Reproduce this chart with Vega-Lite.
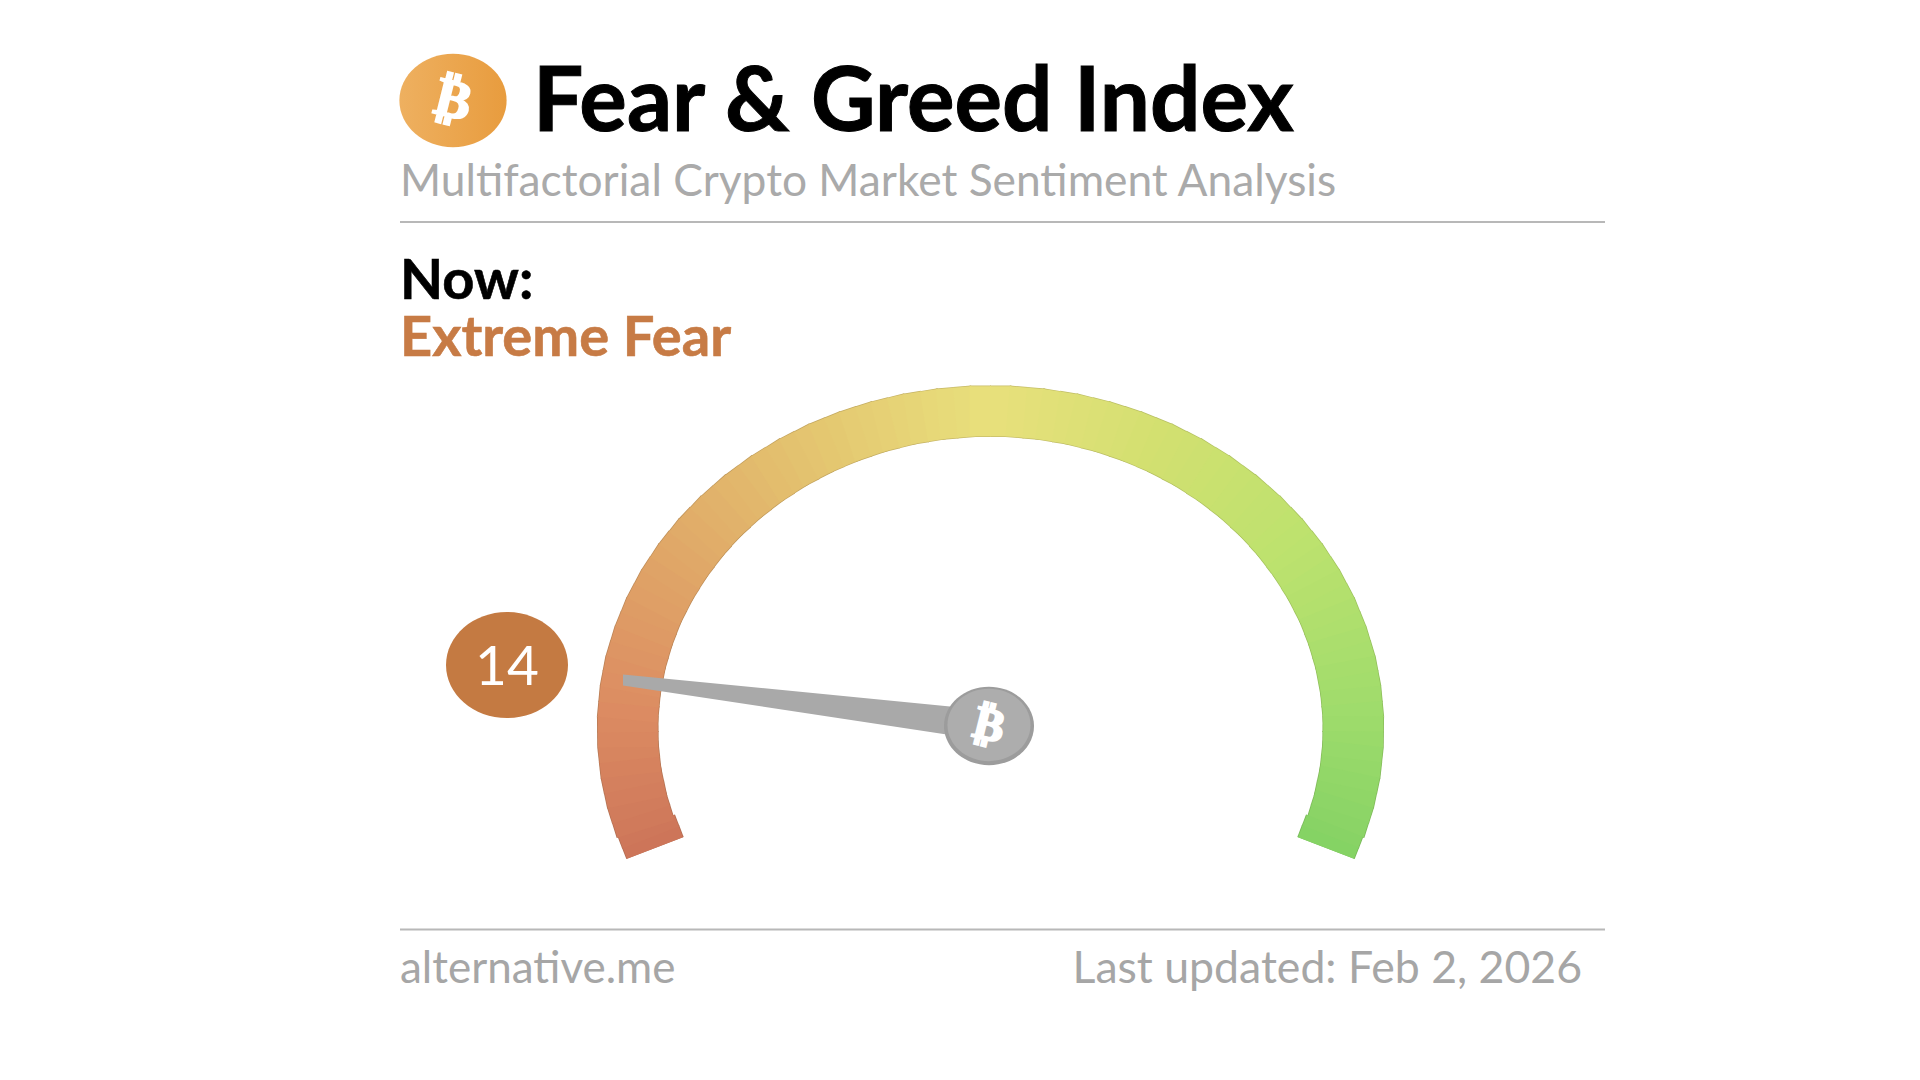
{
"$schema":"https://vega.github.io/schema/vega-lite/v6.json",
"width":1920,"height":1080,"autosize":{"type":"fit","contains":"padding"},"padding":0,
"background":"#ffffff","view":{"stroke":null},
"resolve":{"scale":{"color":"independent"}},
"datasets":{
"gauge":[
{"index":0.6,"x":655,"y":848,"x2":650.5,"y2":836.4,"w":60},
{"index":1.7,"x":650.8,"y":837.3,"x2":646.3,"y2":825.7,"w":60},
{"index":2.8,"x":645.8,"y":828.9,"x2":640.9,"y2":813.4,"w":59.5},
{"index":3.9,"x":641.2,"y":814.4,"x2":636.3,"y2":798.9,"w":59.7},
{"index":5,"x":637.2,"y":802.1,"x2":633.9,"y2":786.4,"w":60},
{"index":6.1,"x":634,"y":787.4,"x2":630.7,"y2":771.7,"w":60},
{"index":7.2,"x":631.2,"y":775,"x2":629.4,"y2":758.9,"w":60},
{"index":8.3,"x":629.6,"y":760,"x2":627.8,"y2":743.9,"w":60},
{"index":9.4,"x":628,"y":747.3,"x2":627.85,"y2":731.2,"w":60},
{"index":10.6,"x":627.85,"y":732.3,"x2":627.7,"y2":716.2,"w":60},
{"index":11.7,"x":627.5,"y":719.6,"x2":629,"y2":703.5,"w":60},
{"index":12.8,"x":628.9,"y":704.6,"x2":630.4,"y2":688.5,"w":60},
{"index":13.9,"x":629.9,"y":691.8,"x2":632.9,"y2":676,"w":60},
{"index":15,"x":632.7,"y":677.1,"x2":635.7,"y2":661.3,"w":60},
{"index":16.1,"x":634.9,"y":664.5,"x2":639.55,"y2":648.95,"w":59.7},
{"index":17.2,"x":639.25,"y":649.95,"x2":643.9,"y2":634.4,"w":59.5},
{"index":18.3,"x":642.8,"y":637.6,"x2":648.85,"y2":622.5,"w":59.2},
{"index":19.4,"x":648.45,"y":623.4,"x2":654.5,"y2":608.3,"w":58.9},
{"index":20.6,"x":653.1,"y":611.4,"x2":660.7,"y2":596.8,"w":58.7},
{"index":21.7,"x":660.3,"y":597.7,"x2":667.9,"y2":583.1,"w":58.4},
{"index":22.8,"x":666.2,"y":586,"x2":675.2,"y2":572.1,"w":58.2},
{"index":23.9,"x":674.6,"y":573,"x2":683.6,"y2":559.1,"w":57.8},
{"index":25,"x":681.6,"y":561.9,"x2":691.95,"y2":548.65,"w":57.4},
{"index":26.1,"x":691.35,"y":549.45,"x2":701.7,"y2":536.2,"w":56.8},
{"index":27.2,"x":699.4,"y":538.9,"x2":711,"y2":526.5,"w":56.4},
{"index":28.3,"x":710.3,"y":527.3,"x2":721.9,"y2":514.9,"w":55.8},
{"index":29.4,"x":719.4,"y":517.4,"x2":732.2,"y2":506,"w":55.4},
{"index":30.6,"x":731.4,"y":506.6,"x2":744.2,"y2":495.2,"w":55},
{"index":31.7,"x":741.5,"y":497.5,"x2":755.35,"y2":487.1,"w":54.6},
{"index":32.8,"x":754.55,"y":487.7,"x2":768.4,"y2":477.3,"w":54.2},
{"index":33.9,"x":765.5,"y":479.4,"x2":780.3,"y2":470.1,"w":53.8},
{"index":35,"x":779.5,"y":470.6,"x2":794.3,"y2":461.3,"w":53.3},
{"index":36.1,"x":791.2,"y":463.1,"x2":806.9,"y2":455,"w":53},
{"index":37.2,"x":806,"y":455.5,"x2":821.7,"y2":447.4,"w":52.6},
{"index":38.3,"x":818.4,"y":448.9,"x2":834.9,"y2":442.05,"w":52.2},
{"index":39.4,"x":833.9,"y":442.45,"x2":850.4,"y2":435.6,"w":51.9},
{"index":40.6,"x":846.9,"y":436.9,"x2":864,"y2":431.3,"w":51.6},
{"index":41.7,"x":863,"y":431.6,"x2":880.1,"y2":426,"w":51.2},
{"index":42.8,"x":876.5,"y":427.1,"x2":894,"y2":422.7,"w":51},
{"index":43.9,"x":893.1,"y":423,"x2":910.6,"y2":418.6,"w":50.8},
{"index":45,"x":906.9,"y":419.4,"x2":924.9,"y2":416.5,"w":50.5},
{"index":46.1,"x":923.9,"y":416.7,"x2":941.9,"y2":413.8,"w":50.3},
{"index":47.2,"x":938.1,"y":414.3,"x2":956.25,"y2":412.7,"w":50.2},
{"index":48.3,"x":955.25,"y":412.8,"x2":973.4,"y2":411.2,"w":50.1},
{"index":49.4,"x":969.6,"y":411.3,"x2":991,"y2":411.3,"w":50},
{"index":50.6,"x":990,"y":411.3,"x2":1011.4,"y2":411.3,"w":50},
{"index":51.7,"x":1025.75,"y":412.8,"x2":1007.6,"y2":411.2,"w":50.1},
{"index":52.8,"x":1042.9,"y":414.3,"x2":1024.75,"y2":412.7,"w":50.2},
{"index":53.9,"x":1057.1,"y":416.7,"x2":1039.1,"y2":413.8,"w":50.3},
{"index":55,"x":1074.1,"y":419.4,"x2":1056.1,"y2":416.5,"w":50.5},
{"index":56.1,"x":1087.9,"y":423,"x2":1070.4,"y2":418.6,"w":50.8},
{"index":57.2,"x":1104.5,"y":427.1,"x2":1087,"y2":422.7,"w":51},
{"index":58.3,"x":1118,"y":431.6,"x2":1100.9,"y2":426,"w":51.2},
{"index":59.4,"x":1134.1,"y":436.9,"x2":1117,"y2":431.3,"w":51.6},
{"index":60.6,"x":1147.1,"y":442.45,"x2":1130.6,"y2":435.6,"w":51.9},
{"index":61.7,"x":1162.6,"y":448.9,"x2":1146.1,"y2":442.05,"w":52.2},
{"index":62.8,"x":1175,"y":455.5,"x2":1159.3,"y2":447.4,"w":52.6},
{"index":63.9,"x":1189.8,"y":463.1,"x2":1174.1,"y2":455,"w":53},
{"index":65,"x":1201.5,"y":470.6,"x2":1186.7,"y2":461.3,"w":53.3},
{"index":66.1,"x":1215.5,"y":479.4,"x2":1200.7,"y2":470.1,"w":53.8},
{"index":67.2,"x":1226.45,"y":487.7,"x2":1212.6,"y2":477.3,"w":54.2},
{"index":68.3,"x":1239.5,"y":497.5,"x2":1225.65,"y2":487.1,"w":54.6},
{"index":69.4,"x":1249.6,"y":506.6,"x2":1236.8,"y2":495.2,"w":55},
{"index":70.6,"x":1261.6,"y":517.4,"x2":1248.8,"y2":506,"w":55.4},
{"index":71.7,"x":1270.7,"y":527.3,"x2":1259.1,"y2":514.9,"w":55.8},
{"index":72.8,"x":1281.6,"y":538.9,"x2":1270,"y2":526.5,"w":56.4},
{"index":73.9,"x":1289.65,"y":549.45,"x2":1279.3,"y2":536.2,"w":56.8},
{"index":75,"x":1299.4,"y":561.9,"x2":1289.05,"y2":548.65,"w":57.4},
{"index":76.1,"x":1306.4,"y":573,"x2":1297.4,"y2":559.1,"w":57.8},
{"index":77.2,"x":1314.8,"y":586,"x2":1305.8,"y2":572.1,"w":58.2},
{"index":78.3,"x":1320.7,"y":597.7,"x2":1313.1,"y2":583.1,"w":58.4},
{"index":79.4,"x":1327.9,"y":611.4,"x2":1320.3,"y2":596.8,"w":58.7},
{"index":80.6,"x":1332.55,"y":623.4,"x2":1326.5,"y2":608.3,"w":58.9},
{"index":81.7,"x":1338.2,"y":637.6,"x2":1332.15,"y2":622.5,"w":59.2},
{"index":82.8,"x":1341.75,"y":649.95,"x2":1337.1,"y2":634.4,"w":59.5},
{"index":83.9,"x":1346.1,"y":664.5,"x2":1341.45,"y2":648.95,"w":59.7},
{"index":85,"x":1348.3,"y":677.1,"x2":1345.3,"y2":661.3,"w":60},
{"index":86.1,"x":1351.1,"y":691.8,"x2":1348.1,"y2":676,"w":60},
{"index":87.2,"x":1352.1,"y":704.6,"x2":1350.6,"y2":688.5,"w":60},
{"index":88.3,"x":1353.5,"y":719.6,"x2":1352,"y2":703.5,"w":60},
{"index":89.4,"x":1353.15,"y":732.3,"x2":1353.3,"y2":716.2,"w":60},
{"index":90.6,"x":1353,"y":747.3,"x2":1353.15,"y2":731.2,"w":60},
{"index":91.7,"x":1351.4,"y":760,"x2":1353.2,"y2":743.9,"w":60},
{"index":92.8,"x":1349.8,"y":775,"x2":1351.6,"y2":758.9,"w":60},
{"index":93.9,"x":1347,"y":787.4,"x2":1350.3,"y2":771.7,"w":60},
{"index":95,"x":1343.8,"y":802.1,"x2":1347.1,"y2":786.4,"w":60},
{"index":96.1,"x":1339.8,"y":814.4,"x2":1344.7,"y2":798.9,"w":59.7},
{"index":97.2,"x":1335.2,"y":828.9,"x2":1340.1,"y2":813.4,"w":59.5},
{"index":98.3,"x":1330.2,"y":837.3,"x2":1334.7,"y2":825.7,"w":60},
{"index":99.4,"x":1326,"y":848,"x2":1330.5,"y2":836.4,"w":60}
],
"needle":[{"x":623,"y":674.5,"y2":685.5},{"x":950,"y":706.5,"y2":735}],
"rules":[{"x":400,"x2":1605,"y":222},{"x":400,"x2":1605,"y":929.5}]
},
"layer":[
{"data":{"name":"rules"},"mark":{"type":"rule","color":"#b8b8b8","strokeWidth":2},
 "encoding":{"x":{"field":"x","type":"quantitative","axis":null,"scale":{"domain":[0,1920],"nice":false,"zero":false}},"x2":{"field":"x2"},"y":{"field":"y","type":"quantitative","axis":null,"scale":{"domain":[1080,0],"nice":false,"zero":false}}}},
{"data":{"name":"gauge"},"mark":{"type":"rule","strokeCap":"butt"},
 "encoding":{"x":{"field":"x","type":"quantitative"},"x2":{"field":"x2"},"y":{"field":"y","type":"quantitative"},"y2":{"field":"y2"},
 "size":{"field":"w","type":"quantitative","legend":null,"scale":{"type":"linear","domain":[50,60],"range":[51.5,61.5]}},
 "color":{"field":"index","type":"quantitative","legend":null,"scale":{"interpolate":"rgb","domain":[0,25,50,75,100],"range":["#b06a50","#c09058","#c8bd68","#a5c45e","#74b655"]}}}},
{"data":{"name":"gauge"},"mark":{"type":"rule","strokeCap":"butt"},
 "encoding":{"x":{"field":"x","type":"quantitative"},"x2":{"field":"x2"},"y":{"field":"y","type":"quantitative"},"y2":{"field":"y2"},
 "size":{"field":"w","type":"quantitative","scale":null,"legend":null},
 "color":{"field":"index","type":"quantitative","legend":null,"scale":{"interpolate":"rgb","domain":[0,12,25,38,50,62,75,88,100],"range":["#cc7459","#dc8c62","#e0a868","#e4c670","#e8e07c","#d2e070","#bce26e","#a0dc6c","#84d264"]}}}},
{"data":{"name":"needle"},"mark":{"type":"area","color":"#a9a9a9"},
 "encoding":{"x":{"field":"x","type":"quantitative"},"y":{"field":"y","type":"quantitative"},"y2":{"field":"y2"}}},
{"data":{"values":[{"name":"hub","x":989,"y":726}]},"mark":{"type":"point","filled":true,"opacity":1,"color":"#9c9c9c","size":8100,"shape":"M-1,0 A1,0.87 0 1,1 1,0 A1,0.87 0 1,1 -1,0 Z"},
 "encoding":{"x":{"field":"x","type":"quantitative"},"y":{"field":"y","type":"quantitative"}}},
{"data":{"values":[{"name":"hub face","x":989,"y":725}]},"mark":{"type":"point","filled":true,"opacity":1,"color":"#adadad","size":6900,"shape":"M-1,0 A1,0.87 0 1,1 1,0 A1,0.87 0 1,1 -1,0 Z"},
 "encoding":{"x":{"field":"x","type":"quantitative"},"y":{"field":"y","type":"quantitative"}}},
{"data":{"values":[{"name":"logo","x":453,"y":100.5}]},"mark":{"type":"point","filled":true,"opacity":1,"color":{"gradient":"linear","x1":0,"x2":1,"y1":0,"y2":0,"stops":[{"offset":0,"color":"#eeb060"},{"offset":1,"color":"#e89c3e"}]},"size":11500,"shape":"M-1,0 A1,0.87 0 1,1 1,0 A1,0.87 0 1,1 -1,0 Z"},
 "encoding":{"x":{"field":"x","type":"quantitative"},"y":{"field":"y","type":"quantitative"}}},
{"data":{"values":[{"name":"badge","x":507,"y":665}]},"mark":{"type":"point","filled":true,"opacity":1,"color":"#c47a42","size":14884,"shape":"M-1,0 A1,0.87 0 1,1 1,0 A1,0.87 0 1,1 -1,0 Z"},
 "encoding":{"x":{"field":"x","type":"quantitative"},"y":{"field":"y","type":"quantitative"}}},
{"data":{"values":[{"label":"₿","x":453,"y":101,"size":54},{"label":"₿","x":989,"y":726,"size":46}]},"mark":{"type":"text","font":"DejaVu Sans","fontWeight":"bold","color":"#ffffff","stroke":"#ffffff","strokeWidth":2,"angle":14,"align":"center","baseline":"middle"},
 "encoding":{"x":{"field":"x","type":"quantitative"},"y":{"field":"y","type":"quantitative"},"text":{"field":"label"},"size":{"field":"size","type":"quantitative","scale":null,"legend":null}}},
{"data":{"values":[{"label":"14","x":507,"y":685}]},"mark":{"type":"text","font":"Lato","fontWeight":400,"fontSize":55,"color":"#ffffff","align":"center","baseline":"alphabetic"},
 "encoding":{"x":{"field":"x","type":"quantitative"},"y":{"field":"y","type":"quantitative"},"text":{"field":"label"}}},
{"data":{"values":[{"label":"Fear & Greed Index","x":533,"y":131}]},"mark":{"type":"text","font":"Lato","fontWeight":"bold","fontSize":89,"color":"#000000","stroke":"#000000","strokeWidth":1,"align":"left","baseline":"alphabetic"},
 "encoding":{"x":{"field":"x","type":"quantitative"},"y":{"field":"y","type":"quantitative"},"text":{"field":"label"}}},
{"data":{"values":[{"label":"Multifactorial Crypto Market Sentiment Analysis","x":400,"y":196}]},"mark":{"type":"text","font":"Lato","fontSize":44.3,"color":"#aaaaaa","align":"left","baseline":"alphabetic"},
 "encoding":{"x":{"field":"x","type":"quantitative"},"y":{"field":"y","type":"quantitative"},"text":{"field":"label"}}},
{"data":{"values":[{"label":"Now:","x":400,"y":299}]},"mark":{"type":"text","font":"Lato","fontWeight":"bold","fontSize":56,"color":"#000000","stroke":"#000000","strokeWidth":0.6,"align":"left","baseline":"alphabetic"},
 "encoding":{"x":{"field":"x","type":"quantitative"},"y":{"field":"y","type":"quantitative"},"text":{"field":"label"}}},
{"data":{"values":[{"label":"Extreme Fear","x":400,"y":356}]},"mark":{"type":"text","font":"Lato","fontWeight":"bold","fontSize":56,"color":"#c77b45","stroke":"#c77b45","strokeWidth":0.6,"align":"left","baseline":"alphabetic"},
 "encoding":{"x":{"field":"x","type":"quantitative"},"y":{"field":"y","type":"quantitative"},"text":{"field":"label"}}},
{"data":{"values":[{"label":"alternative.me","x":400,"y":983}]},"mark":{"type":"text","font":"Lato","fontSize":44,"color":"#a6a6a6","align":"left","baseline":"alphabetic"},
 "encoding":{"x":{"field":"x","type":"quantitative"},"y":{"field":"y","type":"quantitative"},"text":{"field":"label"}}},
{"data":{"values":[{"label":"Last updated: Feb 2, 2026","x":1582,"y":983}]},"mark":{"type":"text","font":"Lato","fontSize":44.6,"color":"#a6a6a6","align":"right","baseline":"alphabetic"},
 "encoding":{"x":{"field":"x","type":"quantitative"},"y":{"field":"y","type":"quantitative"},"text":{"field":"label"}}}
]
}
